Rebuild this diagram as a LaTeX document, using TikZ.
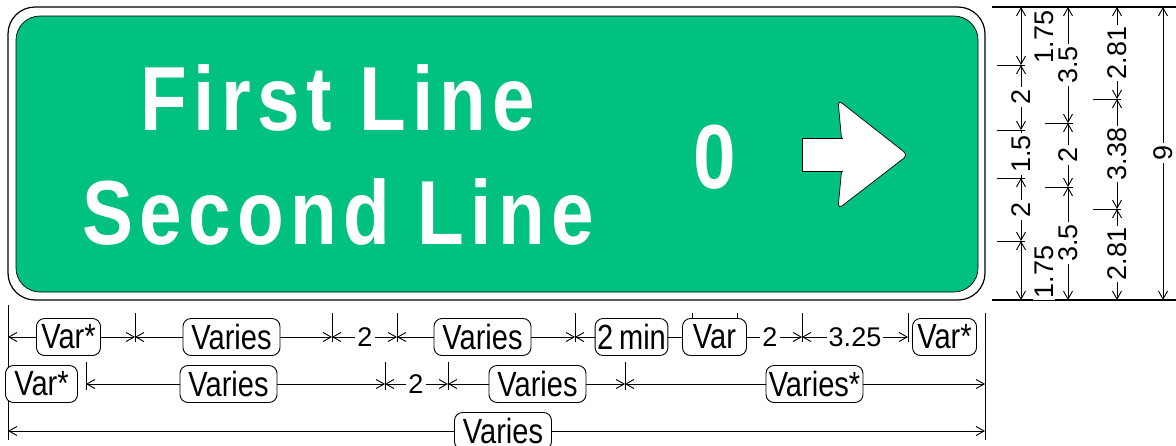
\documentclass[tikz,border=0pt]{standalone}
\usepackage{fontspec}
\setmainfont{Liberation Sans}
\newfontfamily\signfont[FakeStretch=0.84,LetterSpace=7]{Liberation Sans}
\newfontfamily\narrowfont[FakeStretch=0.83]{Liberation Sans}
\usetikzlibrary{arrows.meta}
\usetikzlibrary{backgrounds}
\definecolor{signgreen}{RGB}{0,193,128}

\begin{document}
\begin{tikzpicture}[x=1pt,y=-1pt,
    dimline/.style={line width=0.9pt,-{Straight Barb[length=8pt,width=9pt]}},
    dimboth/.style={line width=0.9pt,{Straight Barb[length=8pt,width=9pt]}-{Straight Barb[length=8pt,width=9pt]}},
    dimtick/.style={line width=0.9pt},
    varbox/.style={draw,fill=white,rounded corners=8pt,line width=0.9pt,minimum height=37pt,minimum width=64pt,inner xsep=2pt,inner ysep=0pt,font=\narrowfont\fontsize{35}{35}\selectfont},
    widebox/.style={varbox,minimum width=97pt},
    dimnum/.style={fill=white,inner sep=2pt,font=\fontsize{27}{27}\selectfont},
    signtext/.style={white,anchor=base,font=\signfont\bfseries\fontsize{91}{91}\selectfont}]
    \path[use as bounding box] (0,0) rectangle (1176,445);
    % sign panel
    \draw[line width=1.2pt,rounded corners=27pt] (8,7) rectangle (985,300);
    \draw[fill=signgreen,draw=black,line width=0.7pt,rounded corners=24pt] (16,16) rectangle (978,292);
    \node[signtext] (line1) at (338,130) {First Line};
    \node[signtext] (line2) at (338,244) {Second Line};
    \node[signtext] (exitnum) at (715,188) {0};
    \filldraw[fill=white,line width=0.7pt,rounded corners=5pt] (838,100) -- (908,155) -- (838,209) -- (843,155) -- cycle;
    \fill[white] (802,138) rectangle (846,171);
    \draw[line width=0.7pt] (843,138) -- (802,138) -- (802,171) -- (843,171);
    % extension lines
    \draw[line width=1.2pt] (992,7) -- (1176,7);
    \draw[line width=1.2pt] (992,300) -- (1176,300);
    \draw[line width=1pt] (8,305) -- (8,440);
    \draw[line width=1pt] (985,313) -- (985,440);
    % vertical dimensions
    \coordinate (a0) at (1021,7);
    \coordinate (a1) at (1021,65);
    \coordinate (a2) at (1021,130);
    \coordinate (a3) at (1021,178);
    \coordinate (a4) at (1021,241);
    \coordinate (a5) at (1021,300);
    \node[dimnum,rotate=90] (ha1) at (1044,37) {1.75};
    \node[dimnum,rotate=90] (ha2) at (1021,97) {2};
    \node[dimnum,rotate=90] (ha3) at (1021,154) {1.5};
    \node[dimnum,rotate=90] (ha4) at (1021,210) {2};
    \node[dimnum,rotate=90] (ha5) at (1044,272) {1.75};
    \coordinate (b0) at (1068,7);
    \coordinate (b1) at (1068,123);
    \coordinate (b2) at (1068,187);
    \coordinate (b3) at (1068,300);
    \node[dimnum,rotate=90] (hb1) at (1068,65) {3.5};
    \node[dimnum,rotate=90] (hb2) at (1068,155) {2};
    \node[dimnum,rotate=90] (hb3) at (1068,243) {3.5};
    \coordinate (c0) at (1117,7);
    \coordinate (c1) at (1117,99);
    \coordinate (c2) at (1117,209);
    \coordinate (c3) at (1117,300);
    \node[dimnum,rotate=90] (hc1) at (1117,53) {2.81};
    \node[dimnum,rotate=90] (hc2) at (1117,154) {3.38};
    \node[dimnum,rotate=90] (hc3) at (1117,254) {2.81};
    \coordinate (d0) at (1163,7);
    \coordinate (d1) at (1163,300);
    \node[dimnum,rotate=90] (hd1) at (1163,153) {9};
    % horizontal dimensions
    \coordinate (p0) at (8,337);
    \coordinate (p1) at (135,337);
    \coordinate (p2) at (332,337);
    \coordinate (p3) at (397,337);
    \coordinate (p4) at (575,337);
    \coordinate (p5) at (692,337);
    \coordinate (p6) at (737,337);
    \coordinate (p7) at (802,337);
    \coordinate (p8) at (908,337);
    \node[varbox] (v11) at (68.5,337) {Var*};
    \node[widebox] (v12) at (231.5,337) {Varies};
    \node[dimnum] (v13) at (365,337) {2};
    \node[widebox] (v14) at (482.5,337) {Varies};
    \node[varbox] (v15) at (631.5,337) {2\,min};
    \node[varbox] (v16) at (714.5,337) {Var};
    \node[dimnum] (v17) at (770,337) {2};
    \node[dimnum] (v18) at (855,337) {3.25};
    \node[varbox] (v19) at (944.5,337) {Var*};
    \coordinate (q0) at (8,384);
    \coordinate (q1) at (86,384);
    \coordinate (q2) at (385,384);
    \coordinate (q3) at (448,384);
    \coordinate (q4) at (625,384);
    \coordinate (q5) at (985,384);
    \node[varbox,minimum width=72pt] (w1) at (41.5,384) {Var*};
    \node[widebox] (w2) at (228.5,384) {Varies};
    \node[dimnum] (w3) at (416,384) {2};
    \node[widebox] (w4) at (537.5,384) {Varies};
    \node[widebox] (w5) at (814.5,384) {Varies*};
    \coordinate (r0) at (8,431);
    \coordinate (r1) at (985,431);
    \node[widebox] (u1) at (503,431) {Varies};
    \begin{scope}[on background layer]
    \fill[white] (0,0) rectangle (1176,445);
    \draw[dimboth] (a0) -- (a1);
    \draw[dimline] (ha2) -- (a1);
    \draw[dimline] (ha2) -- (a2);
    \draw[dimtick] (ha3) -- (a2);
    \draw[dimtick] (ha3) -- (a3);
    \draw[dimline] (ha4) -- (a3);
    \draw[dimline] (ha4) -- (a4);
    \draw[dimboth] (a4) -- (a5);
    \foreach \p in {a1,a2,a3,a4} \draw[dimtick] (\p) ++(-24,0) -- ++(28,0);
    \draw[dimline] (hb1) -- (b0);
    \draw[dimline] (hb1) -- (b1);
    \draw[dimline] (hb2) -- (b1);
    \draw[dimline] (hb2) -- (b2);
    \draw[dimline] (hb3) -- (b2);
    \draw[dimline] (hb3) -- (b3);
    \foreach \p in {b1,b2} \draw[dimtick] (\p) ++(-23,0) -- ++(28,0);
    \draw[dimline] (hc1) -- (c0);
    \draw[dimline] (hc1) -- (c1);
    \draw[dimline] (hc2) -- (c1);
    \draw[dimline] (hc2) -- (c2);
    \draw[dimline] (hc3) -- (c2);
    \draw[dimline] (hc3) -- (c3);
    \foreach \p in {c1,c2} \draw[dimtick] (\p) ++(-24,0) -- ++(28,0);
    \draw[dimline] (hd1) -- (d0);
    \draw[dimline] (hd1) -- (d1);
    \draw[dimline] (v11) -- (p0);
    \draw[dimline] (v11) -- (p1);
    \draw[dimline] (v12) -- (p1);
    \draw[dimline] (v12) -- (p2);
    \draw[dimline] (v13) -- (p2);
    \draw[dimline] (v13) -- (p3);
    \draw[dimline] (v14) -- (p3);
    \draw[dimline] (v14) -- (p4);
    \draw[dimline] (v15) -- (p4);
    \draw[dimline] (v15) -- (p5);
    \draw[dimline] (v17) -- (p6);
    \draw[dimline] (v17) -- (p7);
    \draw[dimline] (v18) -- (p7);
    \draw[dimline] (v18) -- (p8);
    \foreach \p in {p1,p2,p3,p4,p5,p6,p7,p8} \draw[dimtick] (\p) ++(0,-24) -- ++(0,29);
    \draw[dimline] (w2) -- (q1);
    \draw[dimline] (w2) -- (q2);
    \draw[dimline] (w3) -- (q2);
    \draw[dimline] (w3) -- (q3);
    \draw[dimline] (w4) -- (q3);
    \draw[dimline] (w4) -- (q4);
    \draw[dimline] (w5) -- (q4);
    \draw[dimline] (w5) -- (q5);
    \foreach \p in {q1,q2,q3,q4} \draw[dimtick] (\p) ++(0,-22) -- ++(0,28);
    \draw[dimline] (u1) -- (r0);
    \draw[dimline] (u1) -- (r1);
    \end{scope}
\end{tikzpicture}
\end{document}
